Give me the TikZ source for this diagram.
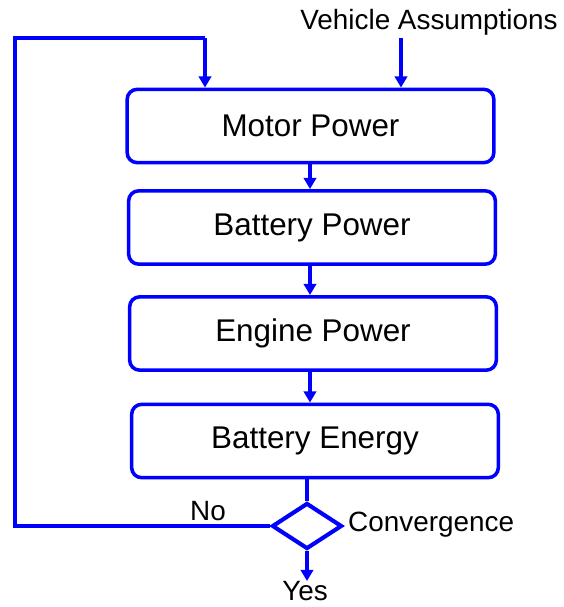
\documentclass[tikz,border=0pt]{standalone}
\usepackage{fontspec}
\setmainfont{Liberation Sans}
\usetikzlibrary{arrows.meta, shapes.geometric}

\begin{document}
\begin{tikzpicture}[x=0.03cm, y=-0.03cm,
    box/.style={draw=blue, line width=3pt, rounded corners=0.3cm,
      minimum width=11cm, minimum height=2.2cm, inner sep=0pt,
      font=\fontsize{26.8}{30}\selectfont},
    lbl/.style={inner sep=0pt, font=\fontsize{23.8}{27}\selectfont},
    flow/.style={draw=blue, line width=3.8pt,
      -{Triangle[length=9.5pt, width=10.5pt]}},
    link/.style={draw=blue, line width=3.3pt}]
  \useasboundingbox (0,0) rectangle (564,607);
  \node[box] (motor) at (310.5,126) {Motor Power};
  \node[box] (batp) at (312,227.5) {Battery Power};
  \node[box] (engine) at (313,333.5) {Engine Power};
  \node[box] (bate) at (315,441) {Battery Energy};
  \node[draw=blue, line width=3.5pt, shape=diamond, inner sep=0pt,
    minimum width=2.1cm, minimum height=1.38cm] (conv) at (307,526) {};
  \coordinate (corner) at (15,38);
  \coordinate (ret) at (205,38);
  \coordinate (vin) at (401,38);
  \node[lbl] (veh) at (429,22) {Vehicle Assumptions};
  \node[lbl, anchor=west] (convlbl) at (348,525) {Convergence};
  \node[lbl] (no) at (208,511) {No};
  \node[lbl] (yes) at (305,591) {Yes};
  % main chain
  \draw[flow] (vin) -- (vin |- motor.north);
  \draw[flow] (motor.south -| 310,0) -- (310,0 |- batp.north);
  \draw[flow] (batp.south -| 310,0) -- (310,0 |- engine.north);
  \draw[flow] (engine.south -| 310,0) -- (310,0 |- bate.north);
  \draw[link] (bate.south -| conv.north) -- (conv.north);
  \draw[flow] (conv.south) -- (conv.south |- yes.north);
  % loop back
  \draw[link] (conv.west) -| (corner) -- (ret);
  \draw[flow] (ret) -- (ret |- motor.north);
\end{tikzpicture}
\end{document}
